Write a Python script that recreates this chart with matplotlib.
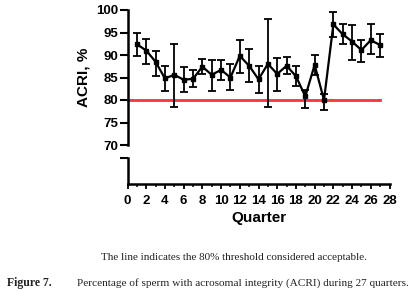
import matplotlib
matplotlib.use("Agg")
import matplotlib.pyplot as plt
import numpy as np

quarters = list(range(1, 28))
acri_mean = [92.4, 91.0, 88.5, 84.8, 85.6, 84.5, 84.7, 87.4, 85.6, 86.7, 85.0, 89.8, 87.6, 84.6,
             88.0, 85.8, 87.6, 85.3, 80.8, 87.8, 80.0, 96.8, 94.6, 93.0, 91.1, 93.3, 92.2]
acri_upper = [94.8, 93.6, 91.0, 87.6, 92.4, 87.4, 86.7, 89.1, 89.0, 88.9, 87.9, 93.3, 91.3, 87.6,
              97.9, 89.3, 89.6, 87.6, 82.2, 90.1, 81.3, 99.6, 96.8, 96.7, 93.3, 96.8, 94.6]
acri_lower = [89.8, 87.9, 85.3, 81.9, 78.5, 81.7, 82.8, 85.8, 82.1, 84.4, 82.2, 85.9, 84.1, 81.5,
              78.5, 82.1, 85.8, 83.1, 78.2, 85.6, 77.8, 94.1, 92.4, 88.9, 88.5, 90.2, 89.6]
threshold = 80
y_ticks = [70, 75, 80, 85, 90, 95, 100]
x_major = list(range(0, 29, 2))

caption_note = "The line indicates the 80% threshold considered acceptable."
fig_label = "Figure 7."
fig_caption = "Percentage of sperm with acrosomal integrity (ACRI) during 27 quarters."

plt.rcParams['font.family'] = ['Liberation Sans', 'DejaVu Sans']

W, H = 415, 308
fig = plt.figure(figsize=(W / 100, H / 100), dpi=100)

x0, x1 = 127.5, 389.5
ax = fig.add_axes([x0 / W, 1 - 145 / H, (x1 - x0) / W, (145 - 10) / H])
axb = fig.add_axes([x0 / W, 1 - 183.5 / H, (x1 - x0) / W, (183.5 - 158.3) / H])

mean = np.array(acri_mean)
yerr = [mean - np.array(acri_lower), np.array(acri_upper) - mean]

ax.plot([0, 27], [threshold, threshold], color='#ff3333', lw=2.0, zorder=2, clip_on=False)
ax.errorbar(quarters, acri_mean, yerr=yerr, color='black', lw=1.6, elinewidth=1.3,
            capsize=2.6, capthick=1.3, marker='s', ms=2.2, zorder=3, clip_on=False)

ax.set_xlim(0, 28)
ax.set_ylim(70, 100)
ax.set_yticks(y_ticks)
ax.set_yticklabels([str(v) for v in y_ticks], fontweight='bold', fontsize=9.5)
for s in ['top', 'right', 'bottom']:
    ax.spines[s].set_visible(False)
ax.spines['left'].set_linewidth(1.8)
ax.tick_params(axis='y', length=5.5, width=1.5, pad=1)
ax.tick_params(axis='x', bottom=False, labelbottom=False)
ax.set_ylabel("ACRI, %", fontweight='bold', fontsize=11, labelpad=4)
ax.patch.set_alpha(0)

axb.set_xlim(0, 28)
axb.set_ylim(0, 10)
axb.set_yticks([10])
axb.set_yticklabels([])
for s in ['top', 'right']:
    axb.spines[s].set_visible(False)
axb.spines['left'].set_linewidth(1.8)
axb.spines['bottom'].set_linewidth(1.8)
axb.tick_params(axis='y', length=5.5, width=1.5)
axb.set_xticks(x_major)
axb.set_xticklabels([str(v) for v in x_major], fontweight='bold', fontsize=9.5)
axb.set_xticks(range(0, 29), minor=True)
axb.tick_params(axis='x', which='major', length=3.5, width=1.3, pad=5)
axb.tick_params(axis='x', which='minor', length=2.5, width=1.1)
axb.set_xlabel("Quarter", fontweight='bold', fontsize=11, labelpad=3)
axb.patch.set_alpha(0)

serif = ['Liberation Serif', 'DejaVu Serif']
fig.text(234 / W, 1 - 257 / H, caption_note, family=serif,
         fontsize=8.0, ha='center', va='center', color='#222222')
fig.text(7 / W, 1 - 283 / H, fig_label, family=serif,
         fontsize=8.5, fontweight='bold', ha='left', va='center', color='#222222')
fig.text(77 / W, 1 - 283 / H, fig_caption, family=serif,
         fontsize=8.1, ha='left', va='center', color='#222222')

fig.savefig("out.png", dpi=100)
